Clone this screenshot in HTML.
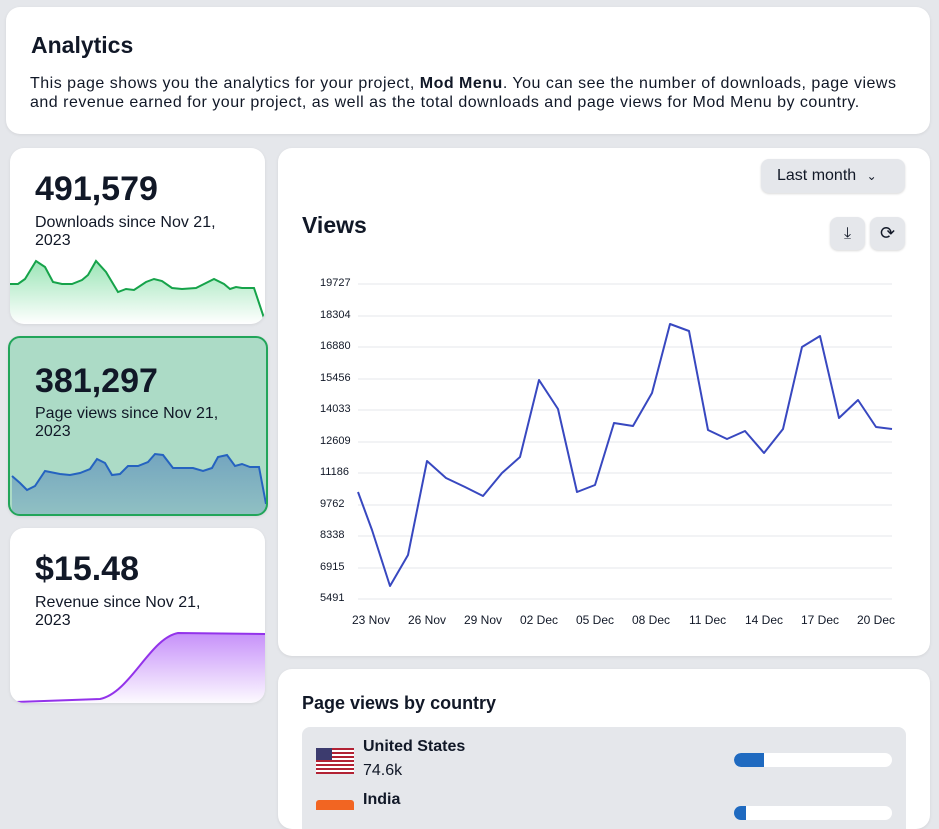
<!DOCTYPE html>
<html><head><style>
body{margin:0;width:939px;height:815px;background:#e5e7eb;font-family:"Liberation Sans",sans-serif;color:#111827;position:relative;overflow:hidden}
.card{position:absolute;background:#fff;border-radius:14px;box-shadow:0 1px 3px rgba(0,0,0,.08);overflow:hidden}
h1{position:absolute;margin:0;font-size:23px;font-weight:bold}
.big{position:absolute;left:25px;font-size:34px;font-weight:bold}
.sub{position:absolute;left:25px;font-size:16px;line-height:18px;width:200px}
.btn{position:absolute;background:#e5e7eb;border-radius:8px;box-shadow:0 1px 2px rgba(0,0,0,.15)}
.yl{position:absolute;font-size:11px;left:320px;width:45px}
.xl{position:absolute;font-size:12px;top:613px}
</style></head><body>
<div class="card" style="left:6px;top:7px;width:924px;height:127px">
<h1 style="left:25px;top:25px">Analytics</h1>
<div style="position:absolute;left:24px;top:67px;font-size:16px;line-height:19px;width:880px;letter-spacing:0.5px">This page shows you the analytics for your project, <b>Mod Menu</b>. You can see the number of downloads, page views and revenue earned for your project, as well as the total downloads and page views for Mod Menu by country.</div>
</div>

<div class="card" style="left:10px;top:148px;width:255px;height:176px">
<div class="big" style="top:22px">491,579</div>
<div class="sub" style="top:66px">Downloads since Nov 21, 2023</div>
<svg style="position:absolute;left:0;top:0" width="255" height="176">
<defs><linearGradient id="g1" x1="0" y1="0" x2="0" y2="1"><stop offset="0" stop-color="#22c55e" stop-opacity=".45"/><stop offset="1" stop-color="#22c55e" stop-opacity="0"/></linearGradient></defs>
<path d="M0,136 L8,136 L15,131 L26,113 L35,119 L43,134 L52,136 L62,136 L72,132 L78,127 L86,113 L96,124 L108,144 L116,141 L124,142 L136,134 L144,131 L152,133 L162,140 L172,141 L186,140 L196,135 L204,131 L214,136 L220,141 L226,139 L232,140 L244,140 L254,170 L254,176 L0,176Z" fill="url(#g1)"/>
<path d="M0,136 L8,136 L15,131 L26,113 L35,119 L43,134 L52,136 L62,136 L72,132 L78,127 L86,113 L96,124 L108,144 L116,141 L124,142 L136,134 L144,131 L152,133 L162,140 L172,141 L186,140 L196,135 L204,131 L214,136 L220,141 L226,139 L232,140 L244,140 L254,170" fill="none" stroke="#16a34a" stroke-width="2"/>
</svg></div>

<div class="card" style="left:8px;top:336px;background:#acdbc6;border:2px solid #22a55a;border-radius:12px;width:256px;height:176px">
<div class="big" style="top:24px;left:25px">381,297</div>
<div class="sub" style="top:67px;left:25px;width:210px">Page views since Nov 21, 2023</div>
<svg style="position:absolute;left:0;top:0" width="256" height="176">
<defs><linearGradient id="g2" x1="0" y1="0" x2="0" y2="1"><stop offset="0" stop-color="#3b6fb8" stop-opacity=".5"/><stop offset="1" stop-color="#3b6fb8" stop-opacity=".25"/></linearGradient></defs>
<path d="M2,138 L10,145 L17,152 L25,148 L35,133 L50,136 L60,137 L70,135 L80,131 L87,121 L95,125 L102,137 L110,136 L118,128 L128,128 L138,124 L145,116 L153,117 L163,130 L175,130 L183,130 L193,133 L202,130 L208,119 L217,117 L225,128 L232,126 L240,129 L249,129 L256,166 L256,176 L2,176Z" fill="url(#g2)"/>
<path d="M2,138 L10,145 L17,152 L25,148 L35,133 L50,136 L60,137 L70,135 L80,131 L87,121 L95,125 L102,137 L110,136 L118,128 L128,128 L138,124 L145,116 L153,117 L163,130 L175,130 L183,130 L193,133 L202,130 L208,119 L217,117 L225,128 L232,126 L240,129 L249,129 L256,166" fill="none" stroke="#2563c0" stroke-width="2"/>
</svg></div>

<div class="card" style="left:10px;top:528px;width:255px;height:175px">
<div class="big" style="top:22px">$15.48</div>
<div class="sub" style="top:66px;width:180px">Revenue since Nov 21, 2023</div>
<svg style="position:absolute;left:0;top:0" width="255" height="175">
<defs><linearGradient id="g3" x1="0" y1="0" x2="0" y2="1"><stop offset="0" stop-color="#a855f7" stop-opacity=".65"/><stop offset="1" stop-color="#a855f7" stop-opacity=".03"/></linearGradient></defs>
<path d="M6,174 L90,171 C120,165 140,110 168,105 L255,106 L255,175 L6,175Z" fill="url(#g3)"/>
<path d="M6,174 L90,171 C120,165 140,110 168,105 L255,106" fill="none" stroke="#9333ea" stroke-width="2"/>
</svg></div>

<div class="card" style="left:278px;top:148px;width:652px;height:508px"></div>
<div class="btn" style="left:761px;top:159px;width:144px;height:34px;font-size:16px;line-height:34px;text-indent:16px">Last month <span style="font-size:12px;margin-left:6px">&#8964;</span></div>
<div style="position:absolute;left:302px;top:212px;font-size:23px;font-weight:bold">Views</div>
<div class="btn" style="left:830px;top:217px;width:35px;height:33px;text-align:center;line-height:33px;font-size:16px">&#10515;</div>
<div class="btn" style="left:870px;top:217px;width:35px;height:33px;text-align:center;line-height:33px;font-size:18px">&#10227;</div>

<svg style="position:absolute;left:0;top:0" width="939" height="815">
<g stroke="#e5e7eb" stroke-width="1">
<line x1="358" x2="892" y1="284" y2="284"/><line x1="358" x2="892" y1="316" y2="316"/><line x1="358" x2="892" y1="347" y2="347"/><line x1="358" x2="892" y1="379" y2="379"/><line x1="358" x2="892" y1="410" y2="410"/><line x1="358" x2="892" y1="442" y2="442"/><line x1="358" x2="892" y1="473" y2="473"/><line x1="358" x2="892" y1="505" y2="505"/><line x1="358" x2="892" y1="536" y2="536"/><line x1="358" x2="892" y1="568" y2="568"/><line x1="358" x2="892" y1="599" y2="599"/>
</g>
<polyline fill="none" stroke="#3848c0" stroke-width="2" stroke-linejoin="round" points="358,492 372,530 390,586 408,555 427,461 446,478 465,487 483,496 502,473 520,457 539,380 558,409 577,492 595,485 614,423 633,426 652,393 670,324 689,331 708,430 727,439 745,431 764,453 783,429 802,347 820,336 839,418 858,400 876,427 892,429"/>
</svg>
<div class="yl" style="top:277px">19727</div><div class="yl" style="top:309px">18304</div><div class="yl" style="top:340px">16880</div><div class="yl" style="top:372px">15456</div><div class="yl" style="top:403px">14033</div><div class="yl" style="top:435px">12609</div><div class="yl" style="top:466px">11186</div><div class="yl" style="top:498px">9762</div><div class="yl" style="top:529px">8338</div><div class="yl" style="top:561px">6915</div><div class="yl" style="top:592px">5491</div>
<div class="xl" style="left:352px">23 Nov</div><div class="xl" style="left:408px">26 Nov</div><div class="xl" style="left:464px">29 Nov</div><div class="xl" style="left:520px">02 Dec</div><div class="xl" style="left:576px">05 Dec</div><div class="xl" style="left:632px">08 Dec</div><div class="xl" style="left:689px">11 Dec</div><div class="xl" style="left:745px">14 Dec</div><div class="xl" style="left:801px">17 Dec</div><div class="xl" style="left:857px">20 Dec</div>

<div class="card" style="left:278px;top:669px;width:652px;height:160px">
<div style="position:absolute;left:24px;top:24px;font-size:18px;font-weight:bold">Page views by country</div>
<div style="position:absolute;left:24px;top:58px;width:604px;height:120px;background:#e5e7eb;border-radius:8px">
<div style="position:absolute;left:14px;top:21px;width:38px;height:26px;background:repeating-linear-gradient(#b22234 0 2px,#fff 2px 4px)"><div style="width:16px;height:12px;background:#3c3b6e"></div></div>
<div style="position:absolute;left:61px;top:11px;font-size:16px;font-weight:bold">United States</div>
<div style="position:absolute;left:61px;top:35px;font-size:16px">74.6k</div>
<div style="position:absolute;left:432px;top:26px;width:158px;height:14px;background:#fff;border-radius:7px;overflow:hidden"><div style="width:30px;height:14px;background:#1f6ac0;border-radius:7px 0 0 7px"></div></div>
<div style="position:absolute;left:14px;top:73px;width:38px;height:10px;background:#f26522;border-radius:3px 3px 0 0"></div>
<div style="position:absolute;left:61px;top:64px;font-size:16px;font-weight:bold">India</div>
<div style="position:absolute;left:432px;top:79px;width:158px;height:14px;background:#fff;border-radius:7px;overflow:hidden"><div style="width:12px;height:14px;background:#1f6ac0"></div></div>
</div></div>
</body></html>
